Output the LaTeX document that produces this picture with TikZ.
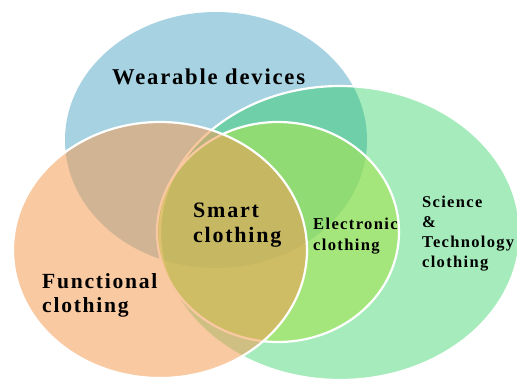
\documentclass[tikz,border=0pt]{standalone}
\usepackage{fontspec}
\setmainfont{Liberation Serif}
\newfontfamily\vennfont[LetterSpace=8]{Liberation Serif}
\definecolor{wearblue}{RGB}{167,210,225}
\definecolor{scigreen}{RGB}{18,203,79}
\definecolor{elecgreen}{RGB}{167,228,82}
\definecolor{funcorange}{RGB}{244,155,83}

\begin{document}
\begin{tikzpicture}[x=1pt, y=-1pt,
  vennset/.style={draw=white, line width=2.2pt},
  vennlabel/.style={font=\vennfont\bfseries, inner sep=0pt, align=left, anchor=base west}]
  \useasboundingbox (0,0) rectangle (517,381);
  % the four sets
  \fill[wearblue] (216,140) ellipse [x radius=151pt, y radius=128pt];
  \filldraw[vennset, fill=scigreen, fill opacity=0.38] (340,233) ellipse [x radius=180pt, y radius=147pt];
  \filldraw[vennset, fill=elecgreen, fill opacity=0.6] (278,232) ellipse [x radius=121pt, y radius=110pt];
  \filldraw[vennset, fill=funcorange, fill opacity=0.54] (160,250) ellipse [x radius=147pt, y radius=128pt];
  % labels (anchored at the baseline of their last line)
  \node[vennlabel, font=\vennfont\bfseries\fontsize{22.6}{28}\selectfont] (wear) at (112,84) {Wearable devices};
  \node[vennlabel, font=\vennfont\bfseries\fontsize{22}{25}\selectfont] (smart) at (193,242) {Smart\\clothing};
  \node[vennlabel, font=\vennfont\bfseries\fontsize{21.6}{24}\selectfont] (func) at (42,312) {Functional\\clothing};
  \node[vennlabel, font=\vennfont\bfseries\fontsize{16.6}{21}\selectfont] (elec) at (313,250) {Electronic\\clothing};
  \node[vennlabel, font=\vennfont\bfseries\fontsize{16.5}{20}\selectfont] (sci) at (422,267) {Science\\\&\\Technology\\clothing};
\end{tikzpicture}
\end{document}
